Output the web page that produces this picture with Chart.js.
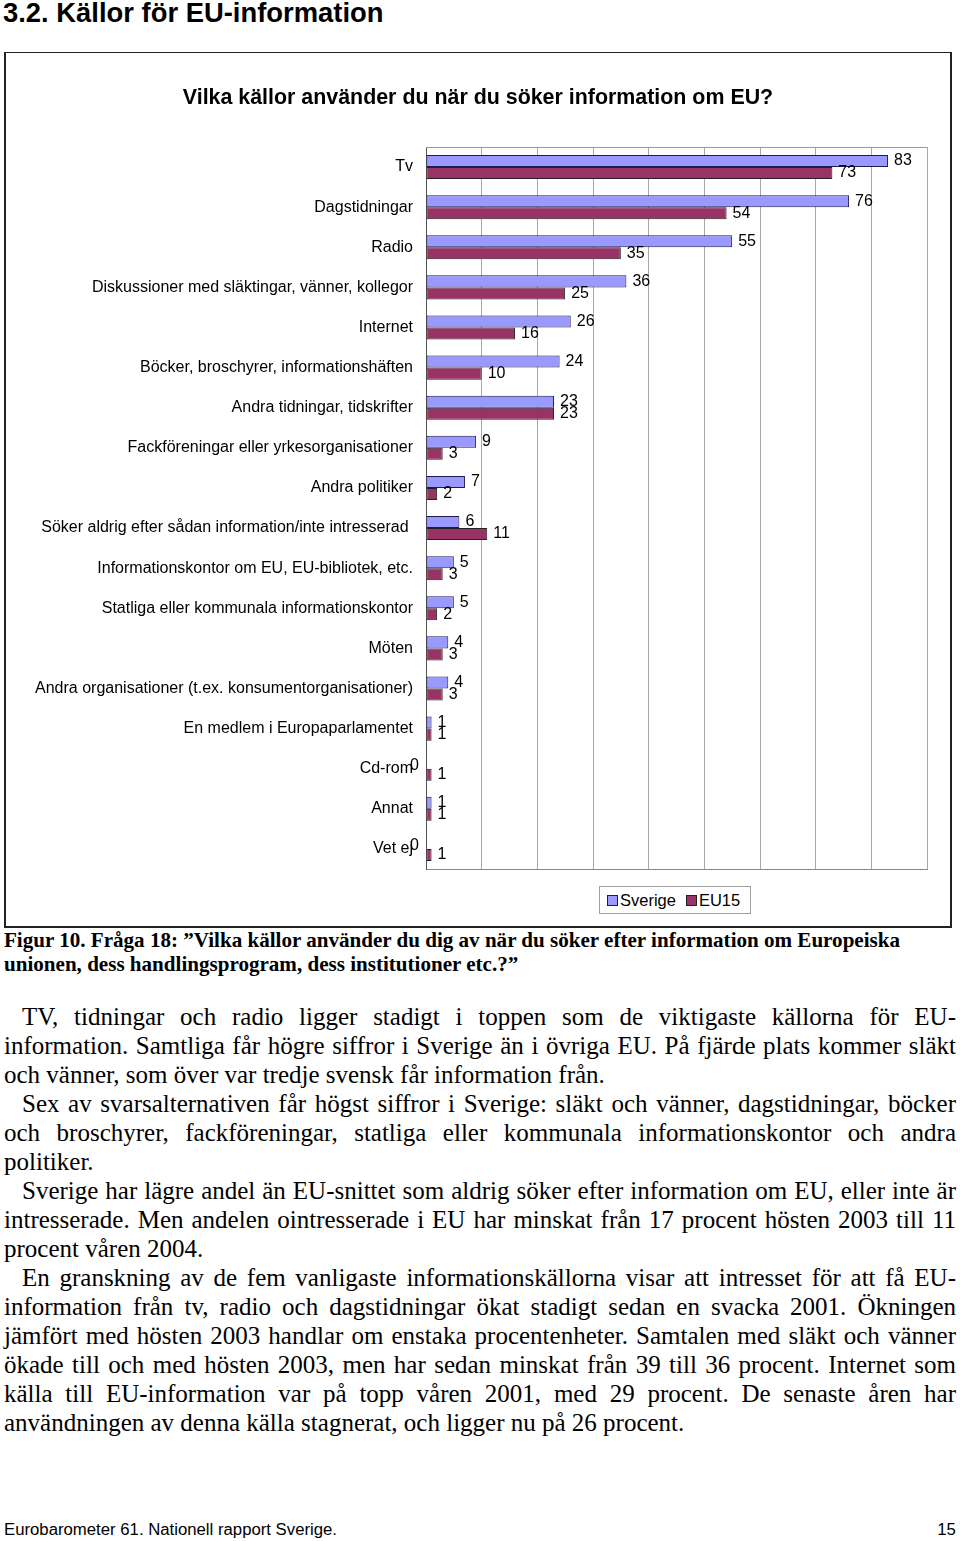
<!DOCTYPE html>
<html lang="sv">
<head>
<meta charset="utf-8">
<title>Källor för EU-information</title>
<script src="https://cdn.jsdelivr.net/npm/chart.js@4/dist/chart.umd.min.js"></script>
<style>
  html, body { margin: 0; padding: 0; background: #fff; }
  body { position: relative; width: 960px; height: 1541px; overflow: hidden; color: #000;
         font-family: Arial, "Liberation Sans", sans-serif; }
  h1 { position: absolute; left: 3px; top: -1px; margin: 0; font-size: 27.4px; line-height: 27px; font-weight: bold; white-space: nowrap; }
  #ram { position: absolute; left: 4px; top: 52px; width: 944px; height: 873px;
         border: 1px solid #222; border-left-width: 2px; border-right-width: 2px; border-bottom-width: 2px; }
  #diagram { position: absolute; left: 0; top: 0; width: 944px; height: 873px; }
  #rubrik { position: absolute; left: 0; top: 32px; width: 944px; text-align: center;
            font-size: 21.4px; line-height: 25px; font-weight: bold; white-space: nowrap; }
  #forklaring { position: absolute; left: 593px; top: 833px; height: 26px; border: 1px solid #a0a0a0;
                display: flex; align-items: center; padding: 0 10px 0 7px; font-size: 16.5px; background: #fff; }
  .ruta { width: 9px; height: 9px; border: 1px solid #222; margin-right: 2px; }
  .figtext { position: absolute; left: 4px; font-family: "Liberation Serif", "Times New Roman", serif;
             font-weight: bold; font-size: 21px; line-height: 24px; white-space: nowrap; transform-origin: 0 0; }
  .brod { position: absolute; left: 4px; top: 1002px; width: 952px;
          font-family: "Liberation Serif", "Times New Roman", serif; font-size: 25px; line-height: 29px; }
  .brod div { white-space: nowrap; text-align: justify; text-align-last: justify; }
  .brod div.sist { text-align-last: left; }
  .brod div.ind { padding-left: 18px; }
  .fot { position: absolute; top: 1522px; font-family: "Liberation Sans Narrow", "Arial Narrow", Arial, sans-serif;
         font-size: 16px; line-height: 16px; white-space: nowrap; }
  #fotText { left: 4px; transform-origin: 0 0; }
  #sidnr { right: 4px; transform-origin: 100% 0; }
</style>
</head>
<body>
<h1>3.2. Källor för EU-information</h1>

<div id="ram">
  <div id="diagram"><canvas id="kallorCanvas"></canvas></div>
  <div id="rubrik">Vilka källor använder du när du söker information om EU?</div>
  <div id="forklaring">
    <span class="ruta" style="background:#9999ff"></span><span>Sverige</span>
    <span class="ruta" style="background:#993366; margin-left:10px"></span><span>EU15</span>
  </div>
</div>

<div class="figtext" id="fig1" style="top:928px">Figur 10. Fråga 18: ”Vilka källor använder du dig av när du söker efter information om Europeiska</div>
<div class="figtext" id="fig2" style="top:952px">unionen, dess handlingsprogram, dess institutioner etc.?”</div>

<div class="brod">
  <div class="ind">TV, tidningar och radio ligger stadigt i toppen som de viktigaste källorna för EU-</div>
  <div>information. Samtliga får högre siffror i Sverige än i övriga EU. På fjärde plats kommer släkt</div>
  <div class="sist">och vänner, som över var tredje svensk får information från.</div>
  <div class="ind">Sex av svarsalternativen får högst siffror i Sverige: släkt och vänner, dagstidningar, böcker</div>
  <div>och broschyrer, fackföreningar, statliga eller kommunala informationskontor och andra</div>
  <div class="sist">politiker.</div>
  <div class="ind">Sverige har lägre andel än EU-snittet som aldrig söker efter information om EU, eller inte är</div>
  <div>intresserade. Men andelen ointresserade i EU har minskat från 17 procent hösten 2003 till 11</div>
  <div class="sist">procent våren 2004.</div>
  <div class="ind">En granskning av de fem vanligaste informationskällorna visar att intresset för att få EU-</div>
  <div>information från tv, radio och dagstidningar ökat stadigt sedan en svacka 2001. Ökningen</div>
  <div>jämfört med hösten 2003 handlar om enstaka procentenheter. Samtalen med släkt och vänner</div>
  <div>ökade till och med hösten 2003, men har sedan minskat från 39 till 36 procent. Internet som</div>
  <div>källa till EU-information var på topp våren 2001, med 29 procent. De senaste åren har</div>
  <div class="sist">användningen av denna källa stagnerat, och ligger nu på 26 procent.</div>
</div>

<div class="fot" id="fotText">Eurobarometer 61. Nationell rapport Sverige.</div>
<div class="fot" id="sidnr">15</div>

<script>
// data (procent)
const kategorier = [
    'Tv',
    'Dagstidningar',
    'Radio',
    'Diskussioner med släktingar, vänner, kollegor',
    'Internet',
    'Böcker, broschyrer, informationshäften',
    'Andra tidningar, tidskrifter',
    'Fackföreningar eller yrkesorganisationer',
    'Andra politiker',
    'Söker aldrig efter sådan information/inte intresserad ',
    'Informationskontor om EU, EU-bibliotek, etc.',
    'Statliga eller kommunala informationskontor',
    'Möten',
    'Andra organisationer (t.ex. konsumentorganisationer)',
    'En medlem i Europaparlamentet',
    'Cd-rom',
    'Annat',
    'Vet ej'
];
const sverige = [83, 76, 55, 36, 26, 24, 23, 9, 7, 6, 5, 5, 4, 4, 1, 0, 1, 0];
const eu15 = [73, 54, 35, 25, 16, 10, 23, 3, 2, 11, 3, 2, 3, 3, 1, 1, 1, 1];
const axelMax = 90;
const axelSteg = 10;

const typsnitt = 'Arial, "Liberation Sans", sans-serif';
Chart.defaults.font.family = typsnitt;
Chart.defaults.color = '#000';

// värden bredvid staplarna
const etikettPlugin = {
    id: 'etiketter',
    afterDatasetsDraw(chart) {
        const ctx = chart.ctx;
        ctx.save();
        ctx.font = '16px ' + typsnitt;
        ctx.fillStyle = '#000';
        ctx.textBaseline = 'middle';
        chart.data.datasets.forEach((ds, i) => {
            chart.getDatasetMeta(i).data.forEach((stapel, j) => {
                const v = ds.data[j];
                if (v === 0) {
                    // excel lägger nollor till vänster om axeln
                    ctx.textAlign = 'right';
                    ctx.fillText('0', chart.chartArea.left - 7, stapel.y + 3);
                } else {
                    ctx.textAlign = 'left';
                    ctx.fillText(String(v), stapel.x + 6, stapel.y);
                }
            });
        });
        ctx.restore();
    }
};

// övre kant på ritytan
const ramPlugin = {
    id: 'ritram',
    beforeDatasetsDraw(chart) {
        const { ctx, chartArea: a } = chart;
        ctx.save();
        ctx.strokeStyle = '#999';
        ctx.lineWidth = 1;
        ctx.beginPath();
        ctx.moveTo(a.left, Math.round(a.top) + 0.5);
        ctx.lineTo(a.right, Math.round(a.top) + 0.5);
        ctx.stroke();
        ctx.restore();
    }
};

new Chart(document.getElementById('kallorCanvas'), {
    type: 'bar',
    data: {
        labels: kategorier,
        datasets: [
            {
                label: 'Sverige',
                data: sverige,
                backgroundColor: '#9999ff',
                borderColor: '#1c1c4c',
                borderWidth: 1,
                borderSkipped: false,
                categoryPercentage: 0.6,
                barPercentage: 1.0
            },
            {
                label: 'EU15',
                data: eu15,
                backgroundColor: '#993366',
                borderColor: '#222',
                borderWidth: 1,
                borderSkipped: false,
                categoryPercentage: 0.6,
                barPercentage: 1.0
            }
        ]
    },
    options: {
        indexAxis: 'y',
        responsive: true,
        maintainAspectRatio: false,
        animation: false,
        layout: { padding: { left: 0, right: 23, top: 94, bottom: 57 } },
        scales: {
            x: {
                min: 0,
                max: axelMax,
                ticks: { display: false, stepSize: axelSteg },
                grid: { color: '#a8a8a8', drawTicks: false },
                border: { color: '#888' }
            },
            y: {
                grid: { display: false, drawTicks: false },
                border: { color: '#555' },
                ticks: { font: { size: 16 }, color: '#000', padding: 13 },
                afterFit(scale) { scale.width = 420; }
            }
        },
        plugins: {
            legend: { display: false },
            tooltip: { enabled: false },
            title: { display: false }
        }
    },
    plugins: [etikettPlugin, ramPlugin]
});

// figurtexten och sidfoten är smalare i originalet
function passaBredd(el, bredd) {
    el.style.display = 'inline-block';
    const naturlig = el.getBoundingClientRect().width;
    const skala = bredd / naturlig;
    el.style.transform = 'scaleX(' + skala + ')';
    return skala;
}
const figSkala = passaBredd(document.getElementById('fig1'), 896);
const fig2 = document.getElementById('fig2');
fig2.style.display = 'inline-block';
fig2.style.transform = 'scaleX(' + figSkala + ')';
const fotSkala = passaBredd(document.getElementById('fotText'), 333);
const sidnr = document.getElementById('sidnr');
sidnr.style.display = 'inline-block';
sidnr.style.transform = 'scaleX(' + fotSkala + ')';

// brödtextrader som inte får plats krymps lite
document.querySelectorAll('.brod div').forEach(rad => {
    const tillganglig = rad.clientWidth - parseFloat(getComputedStyle(rad).paddingLeft);
    const span = document.createElement('span');
    span.textContent = rad.textContent;
    rad.textContent = '';
    rad.appendChild(span);
    const bredd = span.getBoundingClientRect().width;
    rad.textContent = span.textContent;
    if (bredd > tillganglig) {
        rad.style.letterSpacing = ((tillganglig - bredd) / rad.textContent.length) + 'px';
    }
});
</script>
</body>
</html>
